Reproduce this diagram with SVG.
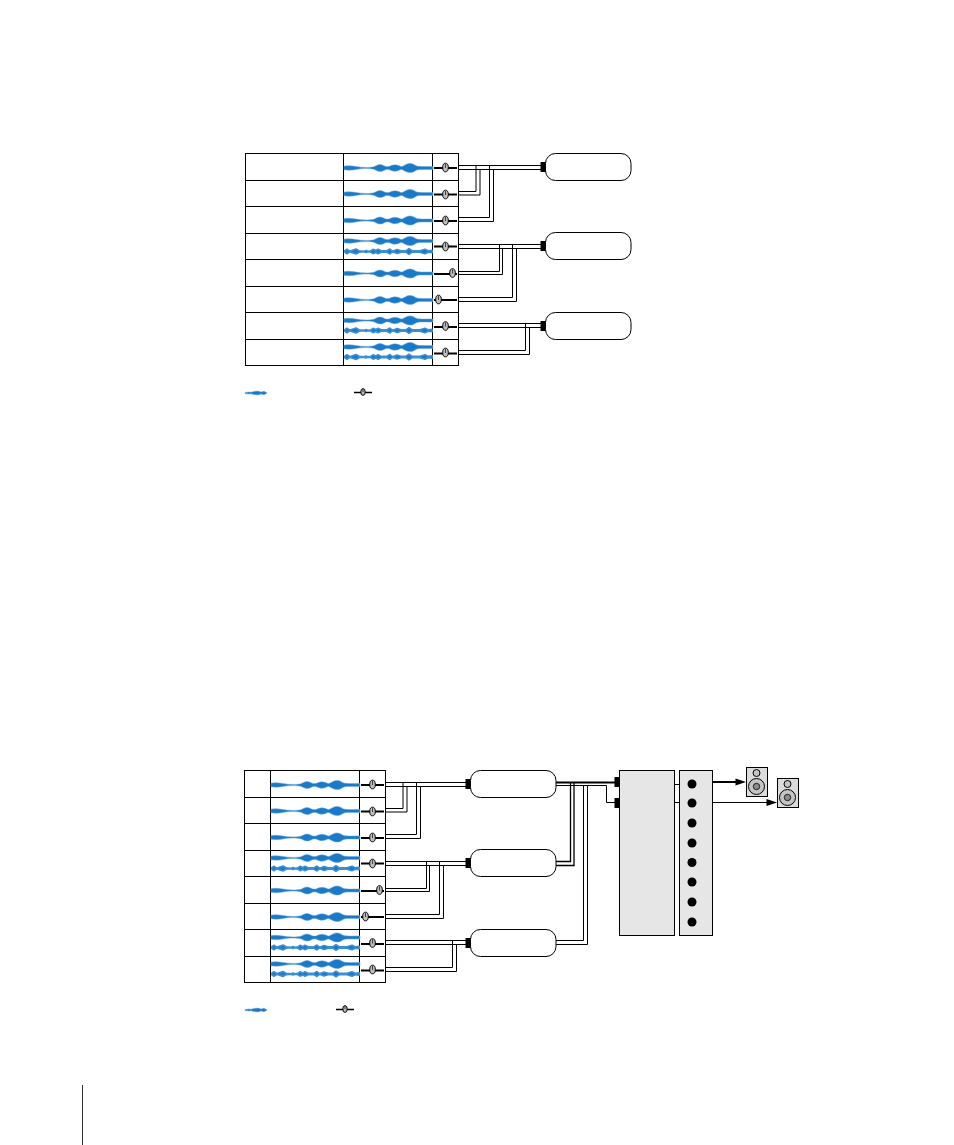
<svg xmlns="http://www.w3.org/2000/svg" width="954" height="1145" viewBox="0 0 954 1145">
<style>
  .cell { fill: #fff; stroke: #000; stroke-width: 1; }
  .wave { fill: #1a7ac8; stroke: #6aa9dc; stroke-width: .5; stroke-linejoin: round; }
  .wave-d { fill: #1a7ac8; stroke: #3c8fd2; stroke-width: 1.5; stroke-linejoin: round; }
  .slot { fill: none; stroke: #000; stroke-width: 2; }
  .slot-s { fill: none; stroke: #000; stroke-width: 1.5; }
  .knob { fill: #bdbdbd; stroke: #000; stroke-width: 1; }
  .stem { fill: none; stroke: #222; stroke-width: .8; }
  .bus { fill: #fff; stroke: #000; stroke-width: 1; }
  .jack { fill: #000; }
  .wire { fill: none; stroke: #000; stroke-width: 1; }
  .panel { fill: #e6e6e6; stroke: #000; stroke-width: 1; }
  .cabinet { fill: #dcdcdc; stroke: #000; stroke-width: 1; }
  .cone { fill: #c4c4c4; stroke: #000; stroke-width: 1; }
  .cap { fill: #8c8c8c; stroke: #000; stroke-width: .8; }
</style>
<defs>
  <!-- level envelopes for one and two channel regions -->
  <path id="w1" d="M0 -1.8C4 -2.4 8 -2.3 12 -1.5C15 -1 18 -.6 22 -.6C25 -.6 28 -.8 30 -1.3C32 -2.4 34 -3.5 36 -3.5C38 -3.5 40 -2.3 42 -1.4L45 -1.4C47 -2.4 49 -3.2 51 -3.2C53 -3.2 55 -2.3 57 -1.5L58 -1.5C60 -2.6 63 -4.6 66 -4.6C69 -4.6 71 -2.8 73 -1.9C75 -1.4 80 -1.4 89 -1.6V1.6C80 1.4 75 1.4 73 1.9C71 2.8 69 4.6 66 4.6C63 4.6 60 2.6 58 1.5L57 1.5C55 2.3 53 3.2 51 3.2C49 3.2 47 2.4 45 1.4L42 1.4C40 2.3 38 3.5 36 3.5C34 3.5 32 2.4 30 1.3C28 .8 25 .6 22 .6C18 .6 15 1 12 1.5C8 2.3 4 2.4 0 1.8Z"/>
  <path id="w2" d="M.8 -.8L3 -2.3L5 -.8L7 -.8L12 -2.5L15 -.8L20 -.3L22 -1.1L24 -.3L27 -.8L29 -2.2L32 -1L34 -2.3L37 -.8L43 -.8L46 -2.5L48 -.8L50 -.8L53 -2.1L57 -.8L62 -.8L65 -2.9L68 -.8L76 -.8L81 -2.4L84 -.8L88.2 -1.2V1.2L84 .8L81 2.4L76 .8L68 .8L65 2.9L62 .8L57 .8L53 2.1L50 .8L48 .8L46 2.5L43 .8L37 .8L34 2.3L32 1L29 2.2L27 .8L24 .3L22 1.1L20 .3L15 .8L12 2.5L7 .8L5 .8L3 2.3L.8 .8Z"/>
  <path id="w3" d="M0 -.6L4 -1L6 -.7L9 -1.6L13 -1.9L16 -1L19 -1.7L21 -.8L22 0L21 .8L19 1.7L16 1L13 1.9L9 1.6L6 .7L4 1L0 .6Z"/>
  <g id="k"><ellipse class="knob" rx="2.8" ry="4.3"/><path class="stem" d="M0 -3.5V.5"/></g>
  <g id="k2"><ellipse class="knob" rx="2.2" ry="3.4"/><path class="stem" d="M0 -3V0"/></g>
</defs>

<!-- upper mixer strips -->
<g id="track-a1"><rect class="cell" x="245.5" y="153.5" width="98" height="27"/><rect class="cell" x="343.5" y="153.5" width="89" height="27"/><rect class="cell" x="432.5" y="153.5" width="26" height="27"/><use href="#w1" class="wave" x="344" y="168"/><path class="slot" d="M434 168H457"/><use href="#k" x="445.5" y="167.5"/></g>
<g id="track-a2"><rect class="cell" x="245.5" y="180.5" width="98" height="26"/><rect class="cell" x="343.5" y="180.5" width="89" height="26"/><rect class="cell" x="432.5" y="180.5" width="26" height="26"/><use href="#w1" class="wave" x="344" y="194"/><path class="slot" d="M434 194.5H457"/><use href="#k" x="445.5" y="194.5"/></g>
<g id="track-a3"><rect class="cell" x="245.5" y="206.5" width="98" height="27"/><rect class="cell" x="343.5" y="206.5" width="89" height="27"/><rect class="cell" x="432.5" y="206.5" width="26" height="27"/><use href="#w1" class="wave" x="344" y="220.5"/><path class="slot" d="M434 221H457"/><use href="#k" x="445.5" y="220.5"/></g>
<g id="track-a4"><rect class="cell" x="245.5" y="233.5" width="98" height="26"/><rect class="cell" x="343.5" y="233.5" width="89" height="26"/><rect class="cell" x="432.5" y="233.5" width="26" height="26"/><use href="#w1" class="wave" x="344" y="241"/><use href="#w2" class="wave-d" x="344" y="251.5"/><path class="slot" d="M434 246.5H457"/><use href="#k" x="445.5" y="246.5"/></g>
<g id="track-a5"><rect class="cell" x="245.5" y="259.5" width="98" height="27"/><rect class="cell" x="343.5" y="259.5" width="89" height="27"/><rect class="cell" x="432.5" y="259.5" width="26" height="27"/><use href="#w1" class="wave" x="344" y="273.5"/><path class="slot" d="M434 274H457"/><use href="#k" x="452.5" y="273"/></g>
<g id="track-a6"><rect class="cell" x="245.5" y="286.5" width="98" height="26"/><rect class="cell" x="343.5" y="286.5" width="89" height="26"/><rect class="cell" x="432.5" y="286.5" width="26" height="26"/><use href="#w1" class="wave" x="344" y="300"/><path class="slot" d="M434 300H457"/><use href="#k" x="438.5" y="299.5"/></g>
<g id="track-a7"><rect class="cell" x="245.5" y="312.5" width="98" height="27"/><rect class="cell" x="343.5" y="312.5" width="89" height="27"/><rect class="cell" x="432.5" y="312.5" width="26" height="27"/><use href="#w1" class="wave" x="344" y="320.5"/><use href="#w2" class="wave-d" x="344" y="330.5"/><path class="slot" d="M434 327H457"/><use href="#k" x="445.5" y="326"/></g>
<g id="track-a8"><rect class="cell" x="245.5" y="339.5" width="98" height="26"/><rect class="cell" x="343.5" y="339.5" width="89" height="26"/><rect class="cell" x="432.5" y="339.5" width="26" height="26"/><use href="#w1" class="wave" x="344" y="347"/><use href="#w2" class="wave-d" x="344" y="357"/><path class="slot" d="M434 353.5H457"/><use href="#k" x="445.5" y="352.5"/></g>

<g id="connectors-a">
  <path class="wire" d="M458.5 165.5H541M458.5 169.5H541"/>
  <path class="wire" d="M458.5 191.5H476V165.5"/>
  <path class="wire" d="M458.5 195H480V169.5"/>
  <path class="wire" d="M458.5 217.5H489.5V165.5M458.5 221.5H493.5V169.5"/>
  <path class="wire" d="M458.5 244.5H541M458.5 248.5H541"/>
  <path class="wire" d="M458.5 271.5H499.5V244.5M458.5 274.5H502.5V248.5"/>
  <path class="wire" d="M458.5 297.5H512.5V244.5M458.5 301.5H516.5V248.5"/>
  <path class="wire" d="M458.5 323.5H541M458.5 327.5H541"/>
  <path class="wire" d="M458.5 350.5H525.5V323.5M458.5 354.5H529.5V327.5"/>
</g>

<!-- upper buses -->
<g id="bus-a1"><rect class="jack" x="540.5" y="162" width="6" height="10"/><rect class="bus" x="545.5" y="153.5" width="85.5" height="27" rx="10"/></g>
<g id="bus-a2"><rect class="jack" x="540.5" y="241" width="6" height="10"/><rect class="bus" x="545.5" y="232.5" width="85.5" height="27" rx="10"/></g>
<g id="bus-a3"><rect class="jack" x="540.5" y="321" width="6" height="10"/><rect class="bus" x="545.5" y="312.5" width="85.5" height="27" rx="10"/></g>

<g id="legend-a">
  <use href="#w3" class="wave" x="245" y="393"/>
  <path class="slot-s" d="M354 392.5H372"/><use href="#k2" x="363" y="392"/>
</g>

<!-- lower mixer strips -->
<g id="track-b1"><rect class="cell" x="244.5" y="770.5" width="26" height="27"/><rect class="cell" x="270.5" y="770.5" width="89" height="27"/><rect class="cell" x="359.5" y="770.5" width="26" height="27"/><use href="#w1" class="wave" x="271" y="785"/><path class="slot" d="M361 785H384"/><use href="#k" x="372.5" y="784.5"/></g>
<g id="track-b2"><rect class="cell" x="244.5" y="797.5" width="26" height="26"/><rect class="cell" x="270.5" y="797.5" width="89" height="26"/><rect class="cell" x="359.5" y="797.5" width="26" height="26"/><use href="#w1" class="wave" x="271" y="811"/><path class="slot" d="M361 811.5H384"/><use href="#k" x="372.5" y="811.5"/></g>
<g id="track-b3"><rect class="cell" x="244.5" y="823.5" width="26" height="27"/><rect class="cell" x="270.5" y="823.5" width="89" height="27"/><rect class="cell" x="359.5" y="823.5" width="26" height="27"/><use href="#w1" class="wave" x="271" y="837.5"/><path class="slot" d="M361 838H384"/><use href="#k" x="372.5" y="837.5"/></g>
<g id="track-b4"><rect class="cell" x="244.5" y="850.5" width="26" height="26"/><rect class="cell" x="270.5" y="850.5" width="89" height="26"/><rect class="cell" x="359.5" y="850.5" width="26" height="26"/><use href="#w1" class="wave" x="271" y="858"/><use href="#w2" class="wave-d" x="271" y="868.5"/><path class="slot" d="M361 863.5H384"/><use href="#k" x="372.5" y="863.5"/></g>
<g id="track-b5"><rect class="cell" x="244.5" y="876.5" width="26" height="27"/><rect class="cell" x="270.5" y="876.5" width="89" height="27"/><rect class="cell" x="359.5" y="876.5" width="26" height="27"/><use href="#w1" class="wave" x="271" y="890.5"/><path class="slot" d="M361 891H384"/><use href="#k" x="379.5" y="890"/></g>
<g id="track-b6"><rect class="cell" x="244.5" y="903.5" width="26" height="26"/><rect class="cell" x="270.5" y="903.5" width="89" height="26"/><rect class="cell" x="359.5" y="903.5" width="26" height="26"/><use href="#w1" class="wave" x="271" y="917"/><path class="slot" d="M361 917H384"/><use href="#k" x="365.5" y="916.5"/></g>
<g id="track-b7"><rect class="cell" x="244.5" y="929.5" width="26" height="27"/><rect class="cell" x="270.5" y="929.5" width="89" height="27"/><rect class="cell" x="359.5" y="929.5" width="26" height="27"/><use href="#w1" class="wave" x="271" y="937.5"/><use href="#w2" class="wave-d" x="271" y="947.5"/><path class="slot" d="M361 944H384"/><use href="#k" x="372.5" y="943"/></g>
<g id="track-b8"><rect class="cell" x="244.5" y="956.5" width="26" height="26"/><rect class="cell" x="270.5" y="956.5" width="89" height="26"/><rect class="cell" x="359.5" y="956.5" width="26" height="26"/><use href="#w1" class="wave" x="271" y="964"/><use href="#w2" class="wave-d" x="271" y="974"/><path class="slot" d="M361 970.5H384"/><use href="#k" x="372.5" y="969.5"/></g>

<g id="connectors-b">
  <path class="wire" d="M385.5 782.5H467M385.5 786.5H467"/>
  <path class="wire" d="M385.5 808.5H403V782.5"/>
  <path class="wire" d="M385.5 812H407V786.5"/>
  <path class="wire" d="M385.5 834.5H416.5V782.5M385.5 838.5H420.5V786.5"/>
  <path class="wire" d="M385.5 861.5H467M385.5 865.5H467"/>
  <path class="wire" d="M385.5 888.5H426.5V861.5M385.5 891.5H429.5V865.5"/>
  <path class="wire" d="M385.5 914.5H439.5V861.5M385.5 918.5H443.5V865.5"/>
  <path class="wire" d="M385.5 940.5H467M385.5 944.5H467"/>
  <path class="wire" d="M385.5 967.5H452.5V940.5M385.5 971.5H456.5V944.5"/>
  <!-- bus outputs into the stereo output channel -->
  <path class="wire" style="stroke-width:2" d="M556 782.5H616"/>
  <path class="wire" d="M556 785.5H606.5V802.5H616"/>
  <path class="wire" style="stroke-width:1.3" d="M556 861.5H570.5V783M556 865.5H574V783"/>
  <path class="wire" d="M556 940.5H583.5V785M556 944.5H587.5V785"/>
  <path class="wire" d="M675 784.5H692M675 802.5H692"/>
  <path class="wire" style="stroke-width:2" d="M712.5 782H737"/>
  <path class="wire" d="M712.5 802.5H768"/>
  <path class="jack" d="M735.5 778.5L746 782L735.5 785.5Z"/>
  <path class="jack" d="M766.5 799L777 802.5L766.5 806Z"/>
</g>

<!-- lower buses -->
<g id="bus-b1"><rect class="jack" x="465.5" y="779" width="6" height="10"/><rect class="bus" x="470.5" y="770.5" width="85.5" height="27" rx="10"/></g>
<g id="bus-b2"><rect class="jack" x="465.5" y="858" width="6" height="10"/><rect class="bus" x="470.5" y="849.5" width="85.5" height="27" rx="10"/></g>
<g id="bus-b3"><rect class="jack" x="465.5" y="938" width="6" height="10"/><rect class="bus" x="470.5" y="929.5" width="85.5" height="27" rx="10"/></g>

<g id="output-channel">
  <rect class="jack" x="614.5" y="777" width="5.5" height="10"/>
  <rect class="jack" x="614.5" y="798" width="5.5" height="10"/>
  <rect class="panel" x="619.5" y="770.5" width="55" height="165"/>
</g>
<g id="output-ports">
  <rect class="panel" x="679.5" y="770.5" width="33" height="165"/>
  <circle cx="692" cy="784" r="4.5"/><circle cx="692" cy="803" r="4.5"/><circle cx="692" cy="823" r="4.5"/><circle cx="692" cy="843" r="4.5"/><circle cx="692" cy="862.5" r="4.5"/><circle cx="692" cy="882" r="4.5"/><circle cx="692" cy="902" r="4.5"/><circle cx="692" cy="922" r="4.5"/>
</g>
<g id="speaker-left">
  <rect class="cabinet" x="746.5" y="767.5" width="21" height="29"/>
  <circle class="cone" cx="756.5" cy="773" r="3.5"/><circle class="cone" cx="756.5" cy="786.5" r="8"/><circle class="cap" cx="756.5" cy="786.5" r="3.2"/>
</g>
<g id="speaker-right">
  <rect class="cabinet" x="777.5" y="778.5" width="21" height="29"/>
  <circle class="cone" cx="787.5" cy="784" r="3.5"/><circle class="cone" cx="787.5" cy="797.5" r="8"/><circle class="cap" cx="787.5" cy="797.5" r="3.2"/>
</g>

<g id="legend-b">
  <use href="#w3" class="wave" x="245" y="1010"/>
  <path class="slot-s" d="M336 1009.5H354"/><use href="#k2" x="345" y="1009"/>
</g>

<!-- page margin rule -->
<path d="M82.5 1085V1145" stroke="#333" stroke-width="1" fill="none"/>
</svg>
